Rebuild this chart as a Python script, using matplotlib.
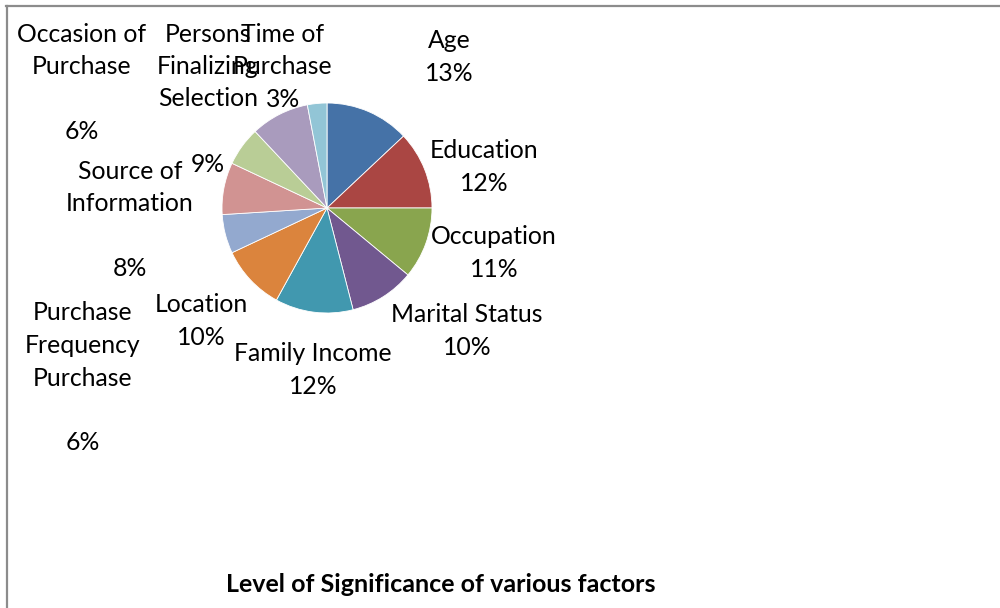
import matplotlib
matplotlib.use('Agg')
import matplotlib.pyplot as plt
from matplotlib.lines import Line2D

plt.rcParams['font.family'] = ['Lato', 'DejaVu Sans']

# data
factors = ['Age', 'Education', 'Occupation', 'Marital Status', 'Family Income',
           'Location', 'Purchase Frequency Purchase', 'Source of Information',
           'Occasion of Purchase', 'Persons Finalizing Selection', 'Time of Purchase']
shares = [13, 12, 11, 10, 12, 10, 6, 8, 6, 9, 3]
colors = ['#4572A7', '#AA4643', '#89A54E', '#71588F', '#4198AF', '#DB843D',
          '#93A9CF', '#D19392', '#B9CD96', '#A99BBD', '#92C5D6']

# how each label is broken into lines, as in the picture
label_lines = [['Age'], ['Education'], ['Occupation'], ['Marital Status'],
               ['Family Income'], ['Location'],
               ['Purchase', 'Frequency', 'Purchase', ''],
               ['Source of', 'Information', ''],
               ['Occasion of', 'Purchase', ''],
               ['Persons', 'Finalizing', 'Selection', ''],
               ['Time of', 'Purchase']]
# label block centres in pixels (x, y from top)
label_pos = [(449, 57), (484, 167), (494, 253), (467, 331), (313, 370),
             (201, 321), (83, 378), (130, 220), (82, 83), (208, 99), (283, 67)]

W, H = 1000, 608
fig = plt.figure(figsize=(W / 100, H / 100), dpi=100)

# pie: centre (327, 208) px, radius 105 px
cx, cy, r = 327, 208, 105
ax = fig.add_axes([(cx - r) / W, (H - cy - r) / H, 2 * r / W, 2 * r / H])
ax.pie(shares, colors=colors, startangle=90, counterclock=False,
       wedgeprops=dict(edgecolor='white', linewidth=0.6))
ax.set_xlim(-1, 1)
ax.set_ylim(-1, 1)
ax.set_aspect('equal')
ax.axis('off')

for lines, val, (px, py) in zip(label_lines, shares, label_pos):
    txt = '\n'.join(lines + ['%d%%' % val])
    fig.text(px / W, 1 - py / H, txt, ha='center', va='center',
             multialignment='center', fontsize=17.8, linespacing=1.5,
             color='black')

fig.text(441 / W, 1 - 585 / H, 'Level of Significance of various factors',
         ha='center', va='center', fontsize=18, fontweight='bold')

# chart frame (only top and left edges fall inside the image)
frame_col = '#8c8c8c'
fig.add_artist(Line2D([6 / W, 1], [1 - 5.5 / H, 1 - 5.5 / H],
                      transform=fig.transFigure, color=frame_col, lw=1.6))
fig.add_artist(Line2D([6.5 / W, 6.5 / W], [0, 1 - 5.5 / H],
                      transform=fig.transFigure, color=frame_col, lw=1.6))

fig.savefig('out.png', dpi=100)
